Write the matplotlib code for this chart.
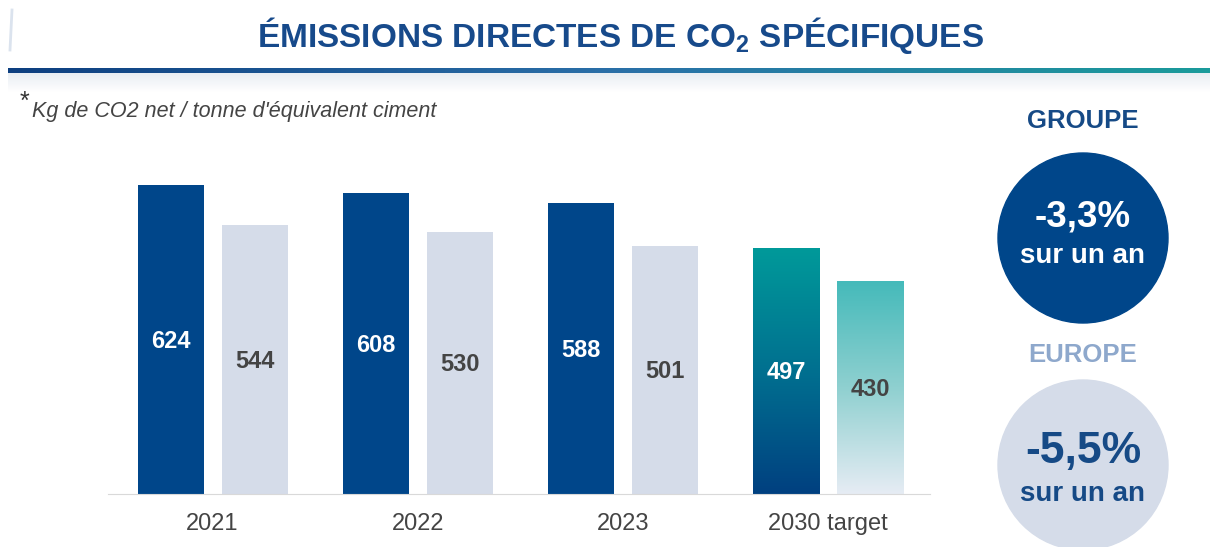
import numpy as np
import matplotlib.pyplot as plt
from matplotlib.patches import Circle
from matplotlib.colors import LinearSegmentedColormap

plt.rcParams['font.family'] = ['Liberation Sans', 'DejaVu Sans']
plt.rcParams['mathtext.fontset'] = 'custom'
plt.rcParams['mathtext.rm'] = 'Liberation Sans:bold'

years = ['2021', '2022', '2023', '2030 target']
groupe = [624, 608, 588, 497]
europe = [544, 530, 501, 430]
title = 'ÉMISSIONS DIRECTES DE CO$_2$ SPÉCIFIQUES'
note = "Kg de CO2 net / tonne d'équivalent ciment"
badges = [('GROUPE', '-3,3%', 'sur un an'), ('EUROPE', '-5,5%', 'sur un an')]

navy = '#00468a'
light = '#d5dce9'

fig = plt.figure(figsize=(12.1, 5.47), dpi=100)

# overlay in pixel coordinates for the decorations
ov = fig.add_axes([0, 0, 1, 1])
ov.set_xlim(0, 1210)
ov.set_ylim(547, 0)
ov.axis('off')

ov.text(621, 35, title, ha='center', va='center', fontsize=24,
        fontweight='bold', color='#174a8b')

# gradient rule under the title
rule = np.linspace(0, 1, 256).reshape(1, -1)
rule_cmap = LinearSegmentedColormap.from_list('rule', ['#0d3f80', '#2a6fa8', '#1a9b9b'])
ov.imshow(rule, cmap=rule_cmap, extent=[8, 1210, 73, 68], aspect='auto', zorder=2)
shade = np.linspace(0, 1, 50).reshape(-1, 1)
shade_cmap = LinearSegmentedColormap.from_list('shade', ['#e8edf3', '#ffffff'])
ov.imshow(shade, cmap=shade_cmap, extent=[8, 1210, 92, 73], aspect='auto', zorder=1)
ov.plot([12, 10], [10, 50], color='#dbe3ee', lw=2)

ov.text(20, 102, '*', fontsize=18, color='#333333', ha='left', va='center')
ov.text(32, 112, note, fontsize=15.5, style='italic', color='#444444', ha='left', va='center')

# badges on the right
ov.text(1083, 121, badges[0][0], fontsize=18.5, fontweight='bold', color='#164a86',
        ha='center', va='center')
ov.add_patch(Circle((1083, 238), 85, color=navy, zorder=2))
ov.text(1083, 217, badges[0][1], fontsize=26.5, fontweight='bold', color='white',
        ha='center', va='center', zorder=3)
ov.text(1083, 256, badges[0][2], fontsize=20, fontweight='bold', color='white',
        ha='center', va='center', zorder=3)
ov.text(1083, 355, badges[1][0], fontsize=18.5, fontweight='bold', color='#8ea8cc',
        ha='center', va='center')
ov.add_patch(Circle((1083, 465), 85, color=light, zorder=2))
ov.text(1083, 452, badges[1][1], fontsize=32, fontweight='bold', color='#164a86',
        ha='center', va='center', zorder=3)
ov.text(1083, 494, badges[1][2], fontsize=20, fontweight='bold', color='#164a86',
        ha='center', va='center', zorder=3)

# bar chart
ax = fig.add_axes([108 / 1210, 1 - 494 / 547, 822 / 1210, (494 - 172.2) / 547])
x = np.arange(len(years))
w = 0.322
off = 0.205
b1 = ax.bar(x - off, groupe, w, color=navy)
b2 = ax.bar(x + off, europe, w, color=light)

# gradients for the target bars
grad = np.linspace(0, 1, 256).reshape(-1, 1)
dark_cmap = LinearSegmentedColormap.from_list('d', ['#004080', '#007090', '#009a9a'])
lite_cmap = LinearSegmentedColormap.from_list('l', ['#e6ecf4', '#8fd0d0', '#45baba'])
for bars, cm in ((b1, dark_cmap), (b2, lite_cmap)):
    r = bars[-1]
    r.set_facecolor('none')
    x0, y0 = r.get_x(), r.get_y()
    im = ax.imshow(grad, cmap=cm, origin='lower', aspect='auto',
                   extent=[x0, x0 + r.get_width(), y0, y0 + r.get_height()], zorder=1)
    im.set_clip_path(r)
ax.set_xlim(-0.51, 3.497)
ax.set_ylim(0, 650)

for i in range(len(years)):
    ax.text(x[i] - off, groupe[i] / 2 - 4, str(groupe[i]), ha='center', va='center',
            fontsize=17, fontweight='bold', color='white', zorder=3)
    ax.text(x[i] + off, europe[i] / 2 - 4, str(europe[i]), ha='center', va='center',
            fontsize=17, fontweight='bold', color='#444444', zorder=3)

for s in ['top', 'right', 'left']:
    ax.spines[s].set_visible(False)
ax.spines['bottom'].set_color('#d9d9d9')
ax.set_yticks([])
ax.set_xticks(x)
ax.set_xticklabels(years, fontsize=17, color='#444444')
ax.tick_params(axis='x', length=0, pad=14)

fig.savefig('out.png', dpi=100)
